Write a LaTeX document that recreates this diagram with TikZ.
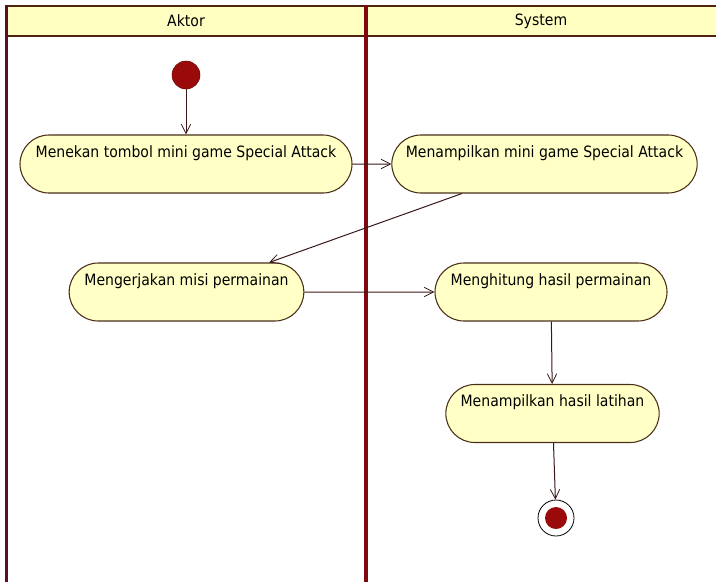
\documentclass[tikz,border=0pt]{standalone}
\usepackage{fontspec}
\setmainfont{DejaVu Sans Condensed}
\usetikzlibrary{shapes.misc,arrows.meta}
\definecolor{lanered}{HTML}{7E0A10}
\definecolor{laneleft}{HTML}{5A1020}
\definecolor{headline}{HTML}{4E2410}
\definecolor{headfill}{HTML}{FFFFC2}
\definecolor{actfill}{HTML}{FFFFC6}
\definecolor{actdraw}{HTML}{4A3018}
\definecolor{dotred}{HTML}{9A0A0A}
\definecolor{flowcol}{HTML}{3A1818}
\newcommand{\acttext}[1]{\makebox[0pt][c]{#1}}
\begin{document}
\begin{tikzpicture}[x=0.75pt,y=-0.75pt,
  labelfont/.style={font=\fontsize{11.7}{13}\selectfont},
  activity/.style={rounded rectangle, draw=actdraw, line width=0.8pt,
    fill=actfill, labelfont, text height=16.5pt, text depth=27pt,
    inner ysep=0pt, inner xsep=0pt, minimum height=43.5pt},
  startdot/.style={circle, fill=dotred, draw=dotred!70!black, line width=0.4pt,
    minimum size=21pt, inner sep=0pt},
  enddot/.style={circle, draw=black, line width=0.6pt, fill=white,
    minimum size=27pt, inner sep=0pt,
    path picture={\fill[dotred] (path picture bounding box.center) circle (8.25pt);}},
  flow/.style={draw=flowcol, line width=0.75pt,
    -{Straight Barb[length=7pt,width=7pt,line width=0.6pt]}},
  header/.style={labelfont, inner sep=0pt}
]
\useasboundingbox (0,0) rectangle (716,582);
\fill[white] (0,0) rectangle (716,582);

% swimlane header band
\fill[headfill] (7,6) rectangle (716,36);
\draw[headline, line width=1.6pt] (7,6) -- (716,6);
\draw[headline, line width=1.6pt] (7,36) -- (716,36);

% lane borders
\draw[laneleft, line width=2.2pt] (6.5,5) -- (6.5,582);
\draw[lanered, line width=2.4pt] (366,5) -- (366,582);

\node[header] (hA) at (186,21) {Aktor};
\node[header] (hS) at (541,21) {System};

% activities
\node[startdot] (start) at (186,75) {};
\node[activity, minimum width=249pt] (a1) at (186,164) {\acttext{Menekan tombol mini game Special Attack}};
\node[activity, minimum width=229pt] (a2) at (544.5,164) {\acttext{Menampilkan mini game Special Attack}};
\node[activity, minimum width=176pt] (a3) at (186.5,292) {\acttext{Mengerjakan misi permainan}};
\node[activity, minimum width=174pt] (a4) at (551,292) {\acttext{Menghitung hasil permainan}};
\node[activity, minimum width=160pt] (a5) at (552.5,413.5) {\acttext{Menampilkan hasil latihan}};
\node[enddot] (stop) at (556,518) {};

% control flow
\draw[flow] (start) -- (a1);
\draw[flow] (a1) -- (a2);
\draw[flow] (a2) -- (a3);
\draw[flow] (a3) -- (a4);
\draw[flow] (a4) -- (a5);
\draw[flow] (a5) -- (stop);
\end{tikzpicture}
\end{document}
